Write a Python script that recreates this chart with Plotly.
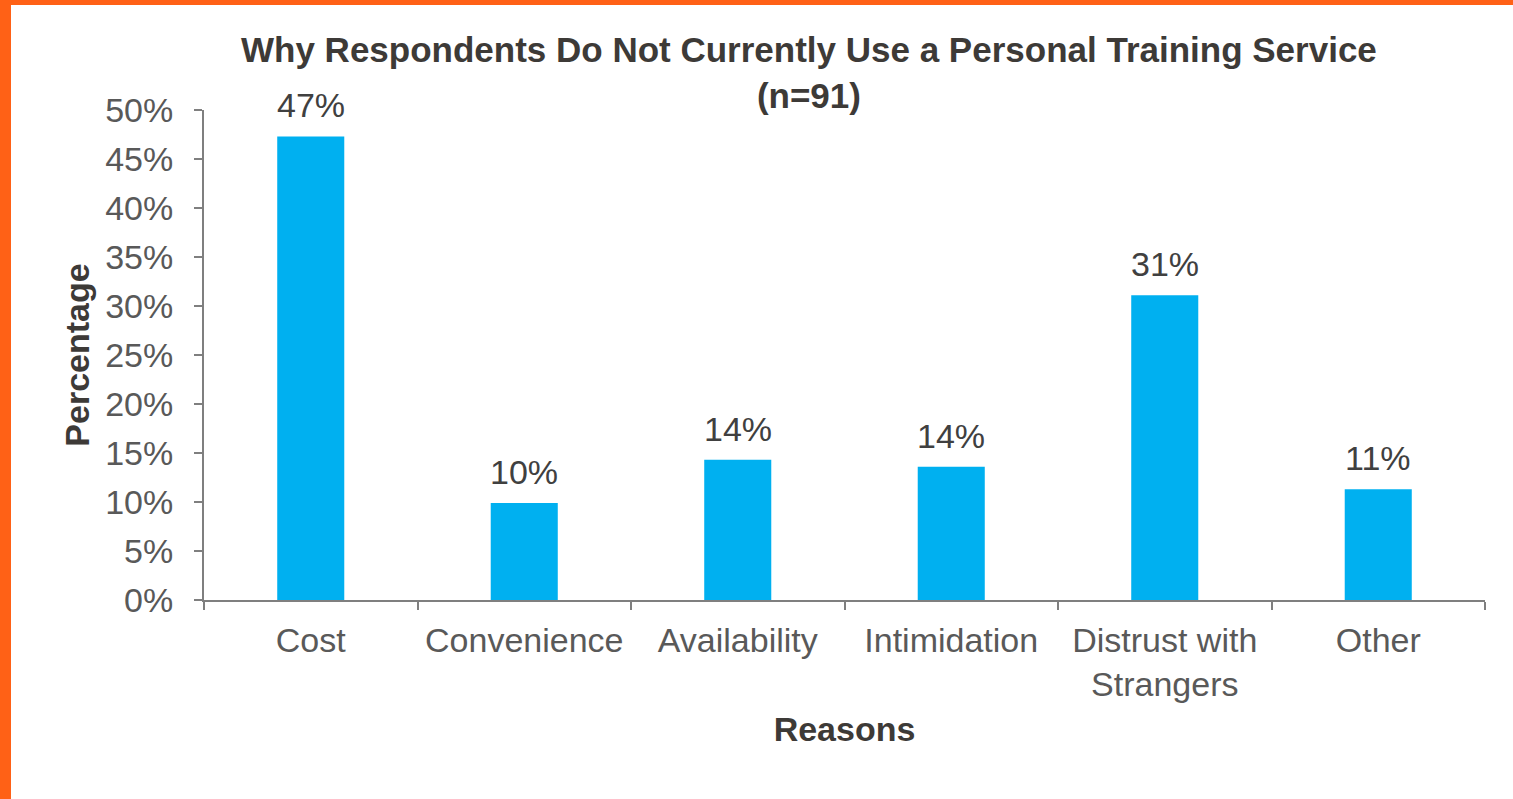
import plotly.graph_objects as go

# Survey results: reasons for not using a personal training service (n=91)
reasons = ["Cost", "Convenience", "Availability", "Intimidation",
           "Distrust with<br>Strangers", "Other"]
percentages = [47.3, 9.9, 14.3, 13.6, 31.1, 11.3]
y_ticks = [0, 5, 10, 15, 20, 25, 30, 35, 40, 45, 50]
y_tick_labels = [f"{v}%" for v in y_ticks]

W, H = 1513, 799
M_L, M_R, M_T, M_B = 204, 28, 110, 199
PW = W - M_L - M_R
PH = H - M_T - M_B

FONT = "Liberation Sans, Arial, sans-serif"
AXIS_GREY = "#7f7f7f"
LABEL_GREY = "#595959"
DARK = "#3d3a37"
ORANGE = "#FF6116"
FS = 34

fig = go.Figure(
    go.Bar(
        x=reasons,
        y=percentages,
        marker=dict(color="#00B0F0", line=dict(width=0)),
        hoverinfo="x+y",
    )
)

# Value labels above each bar
for r, p in zip(reasons, percentages):
    fig.add_annotation(
        x=r, y=p, xref="x", yref="y",
        text=f"{p:.0f}%",
        showarrow=False,
        yanchor="bottom",
        yshift=10,
        font=dict(family=FONT, size=FS, color="#404040"),
    )

# Chart title (two lines)
fig.add_annotation(
    xref="paper", yref="paper",
    x=(809 - M_L) / PW, y=1 + (M_T - 28) / PH,
    xanchor="center", yanchor="top",
    text="<b>Why Respondents Do Not Currently Use a Personal Training Service<br>(n=91)</b>",
    showarrow=False,
    font=dict(family=FONT, size=35, color=DARK),
)

fig.update_layout(
    width=W,
    height=H,
    margin=dict(l=M_L, r=M_R, t=M_T, b=M_B, pad=0),
    paper_bgcolor="white",
    plot_bgcolor="white",
    bargap=0.686,
    showlegend=False,
    font=dict(family=FONT, color=LABEL_GREY),
    xaxis=dict(
        showline=True,
        linecolor=AXIS_GREY,
        linewidth=2,
        ticks="outside",
        tickson="boundaries",
        ticklen=8,
        tickwidth=2,
        tickcolor=AXIS_GREY,
        ticklabelstandoff=9,
        tickfont=dict(family=FONT, size=FS, color=LABEL_GREY),
        showgrid=False,
        title=dict(text="<b>Reasons</b>", standoff=15,
                   font=dict(family=FONT, size=FS, color=DARK)),
        automargin=False,
    ),
    yaxis=dict(
        range=[0, 50],
        tickvals=y_ticks,
        ticktext=y_tick_labels,
        showline=True,
        linecolor=AXIS_GREY,
        linewidth=2,
        ticks="outside",
        ticklen=8,
        tickwidth=2,
        tickcolor=AXIS_GREY,
        ticklabelstandoff=14,
        tickfont=dict(family=FONT, size=FS, color=LABEL_GREY),
        showgrid=False,
        zeroline=False,
        title=dict(text="<b>Percentage</b>", standoff=5,
                   font=dict(family=FONT, size=FS, color=DARK)),
        automargin=False,
    ),
)

# Orange frame along the left and top edges of the page
fig.add_shape(type="rect", xref="paper", yref="paper",
              x0=-M_L / PW, x1=(11 - M_L) / PW, y0=-M_B / PH, y1=1 + M_T / PH,
              fillcolor=ORANGE, line=dict(width=0), layer="above")
fig.add_shape(type="rect", xref="paper", yref="paper",
              x0=-M_L / PW, x1=1 + M_R / PW, y0=1 + (M_T - 5) / PH, y1=1 + M_T / PH,
              fillcolor=ORANGE, line=dict(width=0), layer="above")

fig.write_html("out.html")
